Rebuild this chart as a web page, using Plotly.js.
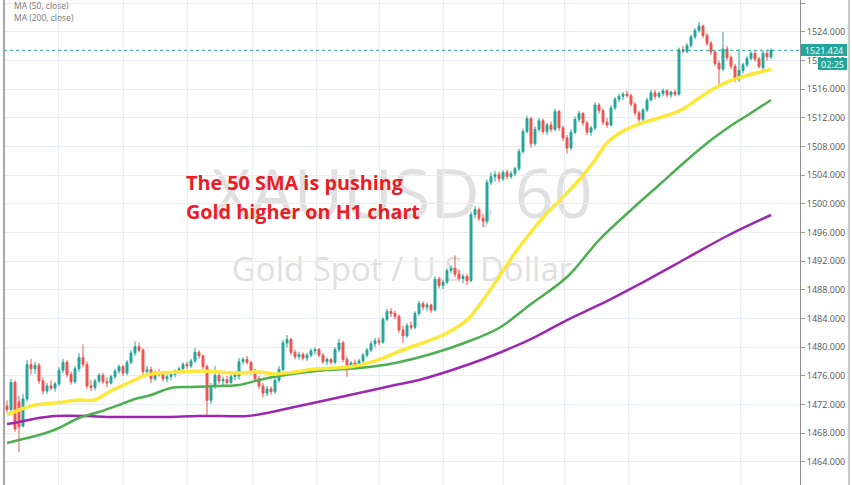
<!DOCTYPE html>
<html><head><meta charset="utf-8">
<script src="https://cdn.plot.ly/plotly-3.0.1.min.js"></script>
<style>html,body{margin:0;padding:0;background:#fff;}#chart{width:852px;height:485px;}</style>
</head><body><div id="chart"></div>
<script>
// XAUUSD hourly candles
const open=[
1471.8,1471.3,1475.1,1472.4,1469.0,1472.8,1477.6,1477.0,1477.5,1475.3,
1473.9,1474.6,1474.3,1474.9,1476.8,1477.9,1476.2,1475.2,1477.0,1478.6,
1477.6,1474.6,1474.4,1475.3,1476.1,1475.2,1475.0,1475.9,1476.7,1477.3,
1476.4,1477.9,1479.2,1480.1,1479.6,1476.6,1476.9,1475.6,1476.4,1476.2,
1475.6,1475.9,1476.2,1476.7,1477.0,1477.6,1477.4,1478.1,1479.3,1478.8,
1477.3,1472.6,1474.6,1476.1,1475.3,1475.5,1475.1,1475.9,1476.0,1478.0,
1478.3,1477.9,1476.6,1475.6,1474.6,1473.6,1474.2,1473.8,1475.4,1476.9,
1480.6,1481.1,1479.3,1478.7,1479.0,1478.5,1478.9,1479.5,1479.7,1478.9,
1478.0,1478.3,1477.9,1479.7,1480.6,1478.3,1477.4,1477.8,1477.5,1478.1,
1478.9,1479.6,1480.5,1480.9,1480.7,1483.9,1485.0,1484.7,1484.3,1482.4,
1481.6,1483.0,1482.8,1484.7,1486.1,1485.6,1485.9,1485.2,1489.5,1488.6,
1489.1,1490.7,1491.0,1490.2,1489.6,1489.9,1489.3,1498.5,1499.2,1498.0,
1497.6,1503.0,1503.8,1504.1,1503.5,1504.4,1503.8,1504.2,1504.9,1507.3,
1510.1,1511.9,1508.4,1510.4,1511.6,1510.1,1511.0,1510.4,1512.9,1510.6,
1509.2,1507.8,1510.0,1511.8,1512.6,1511.3,1510.0,1510.6,1513.8,1513.0,
1511.4,1511.0,1513.4,1514.6,1515.0,1515.3,1515.1,1513.9,1512.7,1511.8,
1513.1,1514.5,1515.5,1515.0,1515.4,1515.8,1515.2,1515.6,1515.3,1521.5,
1521.3,1522.1,1523.3,1524.2,1524.8,1523.5,1522.4,1521.2,1519.6,1518.8,
1521.6,1520.4,1519.2,1517.4,1518.6,1519.4,1520.3,1521.0,1520.2,1519.0,
1521.0,1520.5];
const high=[
1472.6,1475.6,1475.4,1473.2,1473.5,1478.2,1478.4,1478.0,1477.8,1475.8,
1475.0,1475.4,1475.2,1477.2,1478.4,1478.2,1476.6,1477.4,1479.2,1480.4,
1478.0,1475.4,1475.6,1476.4,1476.4,1475.8,1476.2,1477.0,1477.6,1477.5,
1478.2,1479.6,1480.8,1480.7,1479.9,1477.4,1477.3,1476.8,1477.0,1476.6,
1476.2,1476.5,1476.9,1477.3,1477.9,1478.0,1478.4,1479.9,1479.6,1479.0,
1477.6,1475.0,1477.4,1476.4,1475.9,1476.0,1476.2,1476.5,1478.5,1478.6,
1478.8,1478.1,1477.0,1476.0,1475.0,1474.6,1474.5,1475.8,1477.4,1481.0,
1481.7,1481.3,1479.7,1479.4,1479.3,1479.2,1479.8,1480.0,1479.9,1479.2,
1478.6,1478.5,1480.0,1481.2,1480.9,1478.7,1478.1,1478.3,1478.4,1479.2,
1479.9,1480.9,1481.3,1481.4,1484.2,1485.4,1485.5,1485.1,1484.6,1483.0,
1483.4,1483.6,1485.0,1486.5,1486.4,1486.2,1486.1,1489.9,1489.8,1489.4,
1491.0,1491.4,1492.8,1490.8,1490.2,1490.2,1498.9,1499.7,1499.5,1498.6,
1503.4,1504.4,1504.6,1504.5,1504.7,1504.8,1504.6,1505.2,1507.7,1510.5,
1512.3,1512.1,1510.8,1512.0,1511.9,1511.3,1511.5,1513.3,1513.1,1510.9,
1509.6,1510.4,1512.2,1513.0,1512.8,1511.6,1510.9,1514.2,1514.1,1513.3,
1512.0,1513.8,1514.9,1515.4,1515.6,1515.8,1515.4,1514.2,1513.0,1513.4,
1514.8,1515.9,1515.9,1515.7,1516.1,1516.0,1515.8,1515.9,1521.8,1522.0,
1522.4,1523.6,1524.5,1525.4,1525.0,1523.8,1522.7,1521.5,1520.0,1524.0,
1522.0,1520.7,1519.5,1521.6,1519.7,1520.6,1521.3,1521.4,1520.5,1521.4,
1521.5,1521.7];
const low=[
1470.9,1471.0,1468.2,1465.4,1468.8,1472.5,1476.2,1476.3,1474.9,1473.4,
1473.5,1474.0,1473.8,1474.6,1476.4,1475.8,1474.8,1474.9,1476.6,1477.2,
1474.2,1473.9,1474.0,1475.0,1474.9,1474.4,1474.8,1475.6,1476.3,1476.0,
1476.1,1477.6,1478.8,1479.3,1476.2,1476.0,1475.0,1475.3,1475.9,1475.2,
1475.1,1475.4,1475.8,1476.3,1476.6,1477.0,1477.1,1477.8,1478.4,1476.9,
1470.5,1472.1,1474.2,1474.9,1474.6,1474.8,1474.9,1475.4,1475.5,1477.6,
1477.6,1476.2,1475.2,1474.2,1473.0,1473.2,1473.4,1473.5,1475.1,1476.6,
1480.0,1478.9,1478.3,1478.3,1478.2,1478.1,1478.6,1479.0,1478.6,1477.7,
1477.5,1477.6,1477.6,1479.3,1477.9,1475.9,1477.0,1477.2,1477.2,1477.8,
1478.6,1479.3,1480.0,1480.3,1480.5,1483.6,1484.2,1483.9,1482.0,1480.6,
1481.3,1482.4,1482.5,1484.4,1485.2,1485.0,1484.8,1485.0,1488.2,1488.1,
1488.8,1490.3,1489.8,1489.2,1488.9,1488.7,1489.1,1498.0,1497.6,1496.8,
1497.3,1502.6,1503.1,1503.0,1503.2,1503.4,1503.5,1503.9,1504.6,1507.0,
1509.8,1507.8,1508.1,1510.1,1509.7,1509.6,1510.0,1510.1,1510.2,1508.8,
1507.0,1507.5,1509.7,1511.4,1510.9,1509.6,1509.5,1510.3,1512.6,1511.0,
1510.6,1510.8,1513.1,1514.2,1514.5,1514.8,1513.6,1512.3,1511.3,1511.5,
1512.8,1514.3,1514.6,1514.7,1515.0,1514.9,1514.8,1515.0,1515.1,1521.0,
1521.0,1521.8,1523.0,1523.9,1523.1,1522.0,1520.8,1519.2,1516.6,1518.5,
1520.0,1518.8,1517.0,1517.0,1518.2,1519.1,1520.0,1519.8,1518.9,1518.4,
1520.0,1520.2];
const close=[
1471.3,1475.1,1468.6,1468.9,1472.8,1477.6,1477.0,1477.5,1475.3,1473.9,
1474.6,1474.3,1474.9,1476.8,1477.9,1476.2,1475.2,1477.0,1478.6,1477.6,
1474.6,1474.4,1475.3,1476.1,1475.2,1475.0,1475.9,1476.7,1477.3,1476.4,
1477.9,1479.2,1480.1,1479.6,1476.6,1476.9,1475.6,1476.4,1476.2,1475.6,
1475.9,1476.2,1476.7,1477.0,1477.6,1477.4,1478.1,1479.3,1478.8,1477.3,
1472.6,1474.6,1476.1,1475.3,1475.5,1475.1,1475.9,1476.2,1478.0,1478.3,
1477.9,1476.6,1475.6,1474.6,1473.6,1474.2,1473.8,1475.4,1476.9,1480.6,
1481.1,1479.3,1478.7,1479.0,1478.5,1478.9,1479.5,1479.7,1478.9,1478.0,
1478.3,1477.9,1479.7,1480.6,1478.3,1477.4,1477.8,1477.5,1478.1,1478.9,
1479.6,1480.5,1480.9,1480.7,1483.9,1485.0,1484.7,1484.3,1482.4,1481.6,
1483.0,1482.8,1484.7,1486.1,1485.6,1485.9,1485.2,1489.5,1488.6,1489.1,
1490.7,1491.0,1490.2,1489.6,1489.9,1489.3,1498.5,1499.2,1498.0,1497.6,
1503.0,1503.8,1504.1,1503.5,1504.4,1503.8,1504.2,1504.9,1507.3,1510.1,
1511.9,1508.4,1510.4,1511.6,1510.1,1511.0,1510.4,1512.9,1510.6,1509.2,
1507.8,1510.0,1511.8,1512.6,1511.3,1510.0,1510.6,1513.8,1513.0,1511.4,
1511.0,1513.4,1514.6,1515.0,1515.3,1515.1,1513.9,1512.7,1511.8,1513.1,
1514.5,1515.5,1515.0,1515.4,1515.8,1515.2,1515.6,1515.3,1521.5,1521.3,
1522.1,1523.3,1524.2,1524.8,1523.5,1522.4,1521.2,1519.6,1518.8,1521.6,
1520.4,1519.2,1517.4,1518.6,1519.4,1520.3,1521.0,1520.2,1519.2,1521.0,
1520.5,1521.424];

const ma50Bar=[0,3,7,12,18,22,25,28,32,34,38,43,48,53,58,63,67,72,77,82,87,91,94,97,101,106,110,115,119,123,127,131,135,139,143,147,150,154,158,162,166,169,173,177,181,185,191];
const ma50=[1470.56,1471.25,1471.95,1472.23,1472.65,1472.65,1473.62,1474.46,1475.44,1476.0,1476.41,1476.55,1476.69,1476.55,1476.41,1476.55,1476.27,1476.55,1476.97,1477.11,1477.39,1477.95,1478.5,1479.2,1480.04,1481.02,1482.0,1483.8,1486.6,1489.8,1493.15,1496.08,1498.73,1500.96,1503.33,1506.12,1508.49,1510.16,1511.14,1511.84,1512.54,1513.23,1514.77,1516.16,1517.22,1517.92,1518.76];
const ma100Bar=[0,3,8,13,18,23,28,32,36,41,46,53,58,63,68,73,80,88,97,106,115,123,131,140,148,156,163,170,176,182,186,191];
const ma100=[1466.65,1467.07,1467.77,1468.74,1470.14,1470.97,1471.95,1472.79,1473.34,1474.32,1474.46,1474.6,1474.74,1475.44,1476.0,1476.41,1476.83,1477.11,1477.81,1479.06,1480.74,1482.69,1486.04,1489.8,1494.96,1499.15,1502.63,1506.12,1508.91,1511.28,1512.68,1514.49];
const ma200Bar=[0,3,8,12,20,25,32,40,48,60,65,73,80,88,97,103,115,123,132,140,148,160,170,180,191];
const ma200=[1469.3,1469.58,1470.14,1470.42,1470.42,1470.28,1470.28,1470.28,1470.42,1470.42,1470.83,1471.81,1472.65,1473.62,1474.74,1475.44,1477.53,1479.2,1481.43,1483.8,1485.9,1489.38,1492.45,1495.52,1498.45];

const priceTicks=[1464,1468,1472,1476,1480,1484,1488,1492,1496,1500,1504,1508,1512,1516,1520,1524,1528];
const lastPrice=1521.424;
const countdown='02:25';
const legendLabels=['MA (50, close)','MA (200, close)'];
const symbolText='XAUUSD, 60';
const descText='Gold Spot / U.S. Dollar';
const noteLines=['The 50 SMA is pushing','Gold higher on H1 chart'];

const bars=open.map((v,i)=>i);
const UP='#26a69a', DOWN='#ef5350';

const traces=[
 {type:'candlestick', x:bars, open:open, high:high, low:low, close:close,
  increasing:{line:{color:UP,width:1},fillcolor:UP},
  decreasing:{line:{color:DOWN,width:1},fillcolor:DOWN},
  whiskerwidth:0, hoverinfo:'skip'},
 {type:'scatter', mode:'lines', x:ma200Bar, y:ma200, line:{color:'#9c27b0',width:2.5,shape:'spline'}, hoverinfo:'skip'},
 {type:'scatter', mode:'lines', x:ma100Bar, y:ma100, line:{color:'#4caf50',width:2.5,shape:'spline'}, hoverinfo:'skip'},
 {type:'scatter', mode:'lines', x:ma50Bar, y:ma50, line:{color:'#fce83a',width:3.5,shape:'spline'}, hoverinfo:'skip'}
];

const L=4, R=52, W=852, H=485;
const pw=W-L-R;
const px=v=>(v-L)/pw;
const py=v=>1-v/H;
const GRID='#e7edf2';
const WM='#e0e0e0';

const layout={
 width:W, height:H, margin:{l:L,r:R,t:0,b:0,pad:0},
 paper_bgcolor:'#fff', plot_bgcolor:'#fff',
 showlegend:false, hovermode:false, dragmode:false,
 font:{family:'Open Sans, sans-serif', size:9, color:'#555'},
 xaxis:{range:[-0.75,198.25], rangeslider:{visible:false}, showticklabels:false,
   tickmode:'array', tickvals:[12.75,29,45,61.25,77.25,93,109,124,139.25,155.25,183.25],
   showgrid:true, gridcolor:GRID, gridwidth:1, zeroline:false, showline:false, ticks:'', fixedrange:true},
 yaxis:{side:'right', range:[1460.79,1528.44], tickmode:'array', tickvals:priceTicks,
   tickformat:'.3f', ticks:'outside', ticklen:4, tickcolor:'#9a9a9a', showline:true,
   linecolor:'#8f8f8f', linewidth:1, showgrid:true, gridcolor:GRID, zeroline:false,
   tickfont:{size:9,color:'#555'}, fixedrange:true},
 shapes:[
  {type:'rect', xref:'paper', yref:'paper', x0:0, x1:1, y0:py(232), y1:py(160), layer:'below',
   line:{width:0}, fillcolor:'rgba(0,0,0,0)',
   label:{text:symbolText, textposition:'middle center', font:{family:'Open Sans, sans-serif', size:68, color:WM}}},
  {type:'rect', xref:'paper', yref:'paper', x0:0, x1:1, y0:py(290), y1:py(250), layer:'below',
   line:{width:0}, fillcolor:'rgba(0,0,0,0)',
   label:{text:descText, textposition:'middle center', font:{family:'Open Sans, sans-serif', size:33, color:WM}}},
  {type:'line', xref:'paper', yref:'y', x0:0, x1:1, y0:lastPrice, y1:lastPrice, line:{color:UP,width:1,dash:'dot'}},
  {type:'line', xref:'paper', yref:'paper', x0:0, x1:0, y0:0, y1:1, line:{color:'#8a8a8a',width:1.5}},
  {type:'line', xref:'paper', yref:'paper', x0:px(849), x1:px(849), y0:0, y1:1, line:{color:'#9a9a9a',width:1}}
 ],
 annotations:[
  {xref:'paper', yref:'paper', x:px(12), y:py(6), xanchor:'left', yanchor:'middle', showarrow:false,
   text:legendLabels[0], font:{size:8.5,color:'#777'}},
  {xref:'paper', yref:'paper', x:px(12), y:py(18), xanchor:'left', yanchor:'middle', showarrow:false,
   text:legendLabels[1], font:{size:8.5,color:'#777'}},
  {xref:'paper', yref:'paper', x:px(184), y:py(182), xanchor:'left', yanchor:'middle', showarrow:false,
   text:'<b>'+noteLines[0]+'</b>', font:{family:'Open Sans, sans-serif', size:19.8, color:'#ec1c24'}},
  {xref:'paper', yref:'paper', x:px(184), y:py(211), xanchor:'left', yanchor:'middle', showarrow:false,
   text:'<b>'+noteLines[1]+'</b>', font:{family:'Open Sans, sans-serif', size:19.8, color:'#ec1c24'}},
  {xref:'paper', yref:'y', x:1, y:lastPrice, xanchor:'left', yanchor:'middle', xshift:1, showarrow:false,
   text:lastPrice.toFixed(3), bgcolor:UP, borderwidth:0, borderpad:0, width:46, height:12,
   font:{size:9,color:'#fff'}},
  {xref:'paper', yref:'y', x:1, y:lastPrice, xanchor:'left', yanchor:'middle', xshift:18, yshift:-13.5, showarrow:false,
   text:countdown, bgcolor:UP, borderwidth:0, borderpad:0, width:29, height:12,
   font:{size:9,color:'#fff'}}
 ]
};

Plotly.newPlot('chart', traces, layout, {staticPlot:true, displayModeBar:false});
</script>
</body></html>
